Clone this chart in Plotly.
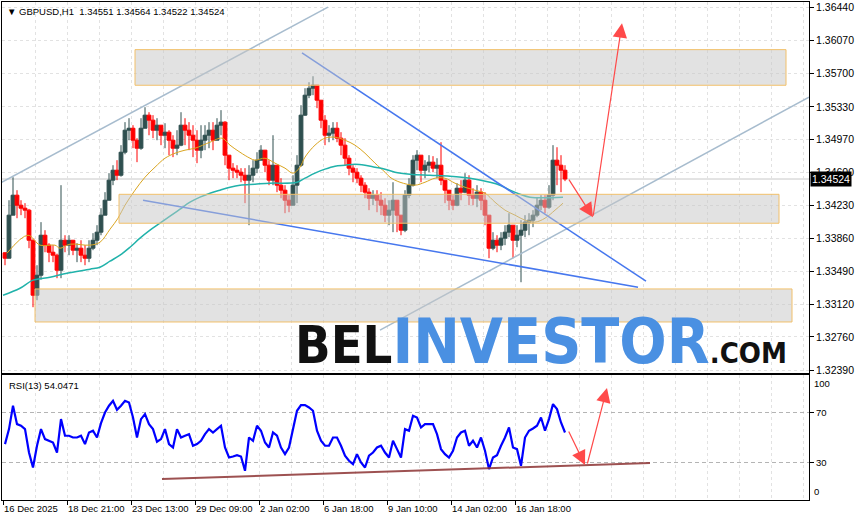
import plotly.graph_objects as go

# ---------------- data ----------------
candle_bar = list(range(2, 566, 4))  # bar index of each (4-bar) candle

closes = [
    1.33639, 1.34120, 1.34343, 1.34231, 1.34198, 1.34176, 1.33840, 1.33226, 1.33449, 1.33896,
    1.33785, 1.33706, 1.33673, 1.33505, 1.33840, 1.33785, 1.33840, 1.33729, 1.33751, 1.33673,
    1.33639, 1.33751, 1.33840, 1.33930, 1.34120, 1.34287, 1.34511, 1.34622, 1.34566, 1.34823,
    1.35069, 1.35091, 1.34957, 1.34868, 1.35091, 1.35237, 1.35181, 1.35069, 1.35125, 1.35013,
    1.35047, 1.34957, 1.34868, 1.34902, 1.35125, 1.35069, 1.35013, 1.34957, 1.34846, 1.34957,
    1.35013, 1.35069, 1.34957, 1.35125, 1.35159, 1.34790, 1.34645, 1.34622, 1.34600, 1.34566,
    1.34511, 1.34566, 1.34645, 1.34734, 1.34846, 1.34678, 1.34511, 1.34678, 1.34455, 1.34399,
    1.34287, 1.34231, 1.34455, 1.34678, 1.35237, 1.35460, 1.35538, 1.35572, 1.35404, 1.35181,
    1.35013, 1.35036, 1.35091, 1.34980, 1.34902, 1.34756, 1.34645, 1.34600, 1.34533, 1.34455,
    1.34377, 1.34309, 1.34343, 1.34287, 1.34231, 1.34120, 1.34176, 1.34287, 1.34120, 1.33952,
    1.34343, 1.34455, 1.34734, 1.34790, 1.34622, 1.34678, 1.34712, 1.34645, 1.34678, 1.34511,
    1.34399, 1.34287, 1.34231, 1.34421, 1.34377, 1.34511, 1.34343, 1.34309, 1.34377, 1.34287,
    1.34120, 1.33751, 1.33840, 1.33785, 1.33863, 1.33930, 1.34008, 1.33840, 1.33896, 1.33952,
    1.34042, 1.34064, 1.34120, 1.34231, 1.34287, 1.34209, 1.34343, 1.34734, 1.34678, 1.34622,
    1.34524,
]
highs = [
    1.33706, 1.34287, 1.34544, 1.34399, 1.34287, 1.34254, 1.34190, 1.33850, 1.33561, 1.34042,
    1.33952, 1.33807, 1.33785, 1.33690, 1.34455, 1.33896, 1.33896, 1.33840, 1.33807, 1.33840,
    1.33785, 1.33840, 1.33919, 1.34008, 1.34198, 1.34377, 1.34589, 1.34678, 1.34734, 1.34902,
    1.35159, 1.35203, 1.35125, 1.34980, 1.35203, 1.35326, 1.35270, 1.35237, 1.35203, 1.35125,
    1.35147, 1.35069, 1.35013, 1.35069, 1.35270, 1.35203, 1.35159, 1.35125, 1.35069, 1.35125,
    1.35125, 1.35159, 1.35159, 1.35203, 1.35293, 1.35170, 1.34790, 1.34701, 1.34678, 1.34645,
    1.34645, 1.34678, 1.34734, 1.34823, 1.34902, 1.34846, 1.34734, 1.35013, 1.34678, 1.34533,
    1.34455, 1.34343, 1.34566, 1.34790, 1.35348, 1.35538, 1.35605, 1.35672, 1.35572, 1.35404,
    1.35237, 1.35125, 1.35159, 1.35159, 1.35047, 1.34980, 1.34790, 1.34678, 1.34645, 1.34566,
    1.34488, 1.34421, 1.34399, 1.34399, 1.34377, 1.34309, 1.34287, 1.34488, 1.34287, 1.34120,
    1.34399, 1.34533, 1.34790, 1.34846, 1.34790, 1.34734, 1.34790, 1.34779, 1.34756, 1.34935,
    1.34511, 1.34399, 1.34343, 1.34477, 1.34511, 1.34589, 1.34566, 1.34421, 1.34455, 1.34421,
    1.34377, 1.34120, 1.33930, 1.33896, 1.33930, 1.34008, 1.34142, 1.34008, 1.34008, 1.34064,
    1.34120, 1.34142, 1.34176, 1.34321, 1.34343, 1.34343, 1.34455, 1.34902, 1.34879, 1.34790,
    1.34678,
]
lows = [
    1.33561, 1.33639, 1.34120, 1.34086, 1.34120, 1.34086, 1.33751, 1.33092, 1.33170, 1.33400,
    1.33706, 1.33595, 1.33595, 1.33416, 1.33416, 1.33706, 1.33673, 1.33673, 1.33595, 1.33595,
    1.33561, 1.33595, 1.33729, 1.33785, 1.33896, 1.34120, 1.34287, 1.34455, 1.34511, 1.34550,
    1.34800, 1.34957, 1.34868, 1.34712, 1.34850, 1.35091, 1.35013, 1.34980, 1.34957, 1.34902,
    1.34868, 1.34790, 1.34768, 1.34790, 1.34890, 1.34902, 1.34846, 1.34768, 1.34701, 1.34756,
    1.34846, 1.34868, 1.34846, 1.34957, 1.35013, 1.34678, 1.34511, 1.34533, 1.34533, 1.34488,
    1.34254, 1.34008, 1.34488, 1.34589, 1.34734, 1.34600, 1.34455, 1.34455, 1.34377, 1.34309,
    1.34142, 1.34153, 1.34231, 1.34254, 1.34660, 1.35230, 1.35427, 1.35460, 1.35315, 1.35091,
    1.34902, 1.34935, 1.34957, 1.34935, 1.34790, 1.34678, 1.34566, 1.34488, 1.34477, 1.34377,
    1.34309, 1.34176, 1.34231, 1.34153, 1.34120, 1.34042, 1.34008, 1.33930, 1.33930, 1.33896,
    1.33930, 1.34309, 1.34440, 1.34622, 1.34488, 1.34533, 1.34600, 1.34600, 1.34533, 1.34455,
    1.34254, 1.34176, 1.34176, 1.34220, 1.34287, 1.34365, 1.34231, 1.34231, 1.34209, 1.34176,
    1.34008, 1.33639, 1.33729, 1.33706, 1.33729, 1.33785, 1.33874, 1.33639, 1.33762, 1.33371,
    1.33874, 1.33896, 1.33986, 1.34097, 1.34176, 1.34142, 1.34190, 1.34287, 1.34455, 1.34377,
    1.34500,
]
first_open = 1.33700
opens = [first_open] + closes[:-1]

rsi = [
    44.7, 56.7, 75.4, 60.7, 59.4, 56.7, 38.0, 26.0, 43.4, 56.7,
    48.7, 47.4, 46.0, 38.0, 64.7, 51.4, 51.4, 50.0, 50.0, 51.4,
    44.7, 54.0, 55.4, 50.0, 61.5, 70.0, 75.4, 79.4, 72.2, 75.4,
    79.4, 78.0, 66.0, 50.0, 64.7, 68.7, 60.7, 56.7, 46.6, 48.7,
    56.7, 44.7, 42.0, 56.7, 50.0, 51.4, 52.7, 43.4, 44.7, 47.4,
    52.7, 56.7, 54.0, 56.7, 59.4, 42.0, 34.0, 34.8, 35.9, 34.8,
    23.4, 50.0, 47.4, 59.4, 55.4, 46.0, 42.0, 54.0, 51.4, 42.0,
    36.7, 42.0, 56.7, 71.4, 75.9, 75.9, 74.0, 71.4, 55.4, 47.4,
    43.4, 43.4, 50.0, 50.0, 43.4, 35.4, 31.4, 28.7, 36.7, 30.0,
    26.0, 35.4, 38.0, 42.0, 43.4, 38.0, 34.0, 47.4, 40.7, 34.0,
    56.7, 55.4, 67.4, 66.0, 58.0, 60.7, 60.7, 60.7, 52.7, 40.7,
    36.7, 34.0, 39.4, 50.0, 54.0, 55.4, 43.4, 47.4, 42.0, 50.0,
    39.4, 24.7, 34.0, 35.9, 43.4, 50.0, 58.0, 42.0, 40.7, 27.4,
    50.0, 55.4, 57.2, 59.4, 66.0, 55.4, 64.7, 76.7, 72.7, 62.0,
    54.0,
]

ma_fast_bar = [4, 25, 37, 52, 57, 67, 87, 97, 107, 115, 122, 132, 142, 152, 162, 172, 182, 192,
               207, 219, 227, 237, 247, 252, 262, 272, 282, 290, 297, 302, 312, 322, 332, 342,
               352, 362, 372, 382, 387, 397, 412, 422, 432, 442, 452, 462, 472, 482, 492, 502,
               512, 522, 532, 542, 552, 560]
ma_fast = [1.33695, 1.33896, 1.33785, 1.33785, 1.33751, 1.33796, 1.33785, 1.33818, 1.33963,
           1.34086, 1.34231, 1.34399, 1.34544, 1.34656, 1.34756, 1.34812, 1.34846, 1.34868,
           1.34935, 1.34980, 1.34902, 1.34823, 1.34756, 1.34734, 1.34756, 1.34701, 1.34645,
           1.34589, 1.34656, 1.34768, 1.34902, 1.34980, 1.34991, 1.34957, 1.34902, 1.34812,
           1.34701, 1.34600, 1.34544, 1.34488, 1.34455, 1.34488, 1.34533, 1.34533, 1.34477,
           1.34432, 1.34399, 1.34365, 1.34265, 1.34176, 1.34120, 1.34064, 1.34042, 1.34086,
           1.34176, 1.34254]

ma_slow_bar = [0, 17, 30, 47, 64, 87, 97, 107, 117, 127, 137, 147, 157, 167, 177, 187, 197, 207,
               217, 227, 237, 252, 267, 294, 302, 312, 322, 332, 342, 352, 362, 372, 382, 392,
               407, 427, 447, 467, 487, 497, 507, 517, 527, 560]
ma_slow = [1.33226, 1.33304, 1.33394, 1.33427, 1.33472, 1.33517, 1.33539, 1.33606, 1.33673,
           1.33762, 1.33863, 1.33952, 1.34030, 1.34109, 1.34187, 1.34265, 1.34321, 1.34365,
           1.34399, 1.34432, 1.34455, 1.34466, 1.34477, 1.34488, 1.34533, 1.34589, 1.34634,
           1.34667, 1.34678, 1.34689, 1.34678, 1.34656, 1.34634, 1.34600, 1.34578, 1.34566,
           1.34555, 1.34533, 1.34488, 1.34455, 1.34399, 1.34354, 1.34321, 1.34321]

# trend lines (bar index, price)
channel_upper_bar = [-3, 325]
channel_upper_px = [1.34477, 1.36443]
channel_lower_bar = [377, 806]
channel_lower_px = [1.32835, 1.35438]
wedge_upper_bar = [299, 643]
wedge_upper_px = [1.35932, 1.33382]
wedge_lower_bar = [140, 635]
wedge_lower_px = [1.34287, 1.33315]

# zones (bar start, bar end, price top, price bottom)
zone_bar_start = [132, 116, 32]
zone_bar_end = [783, 776, 789]
zone_top = [1.35969, 1.34353, 1.33296]
zone_bottom = [1.35571, 1.34030, 1.32927]

# forecast arrows
arrow_bar = [565, 590, 619]
arrow_px = [1.34533, 1.34097, 1.36264]
rsi_arrow_bar = [565, 582, 584, 604]
rsi_arrow_val = [56.0, 28.0, 28.0, 89.6]
rsi_support_bar = [159, 647]
rsi_support_val = [16.8, 29.6]

last_price = 1.34524
price_ticks = [1.36440, 1.36070, 1.35700, 1.35330, 1.34970, 1.34600, 1.34230,
               1.33860, 1.33490, 1.33120, 1.32760, 1.32390]
time_label_bar = [0, 64, 128, 192, 256, 320, 384, 448, 512]
time_labels = ["16 Dec 2025", "18 Dec 21:00", "23 Dec 13:00", "29 Dec 09:00", "2 Jan 02:00",
               "6 Jan 18:00", "9 Jan 10:00", "14 Jan 02:00", "16 Jan 18:00"]
grid_bar = list(range(0, 807, 32))

# ---------------- styles ----------------
BULL = "#2F4F4F"
BEAR = "#FF0000"
GRID = "#E2E2E2"
FONT = "Liberation Sans, Arial, sans-serif"
LOGO_FONT = "'DejaVu Sans Condensed','Liberation Sans Narrow',sans-serif"

fig = go.Figure()

fig.add_trace(go.Candlestick(
    x=candle_bar, open=opens, high=highs, low=lows, close=closes,
    increasing=dict(line=dict(color=BULL, width=1), fillcolor=BULL),
    decreasing=dict(line=dict(color=BEAR, width=1), fillcolor=BEAR),
    whiskerwidth=0, xaxis="x", yaxis="y", hoverinfo="skip"))

fig.add_trace(go.Scatter(x=ma_fast_bar, y=ma_fast, mode="lines", line=dict(color="#DAA520", width=1, shape="spline"),
                         xaxis="x", yaxis="y"))
fig.add_trace(go.Scatter(x=ma_slow_bar, y=ma_slow, mode="lines", line=dict(color="#20B2AA", width=1.5, shape="spline"),
                         xaxis="x", yaxis="y"))

for bx, py, col in [(channel_upper_bar, channel_upper_px, "#A7BCCE"),
                    (channel_lower_bar, channel_lower_px, "#A7BCCE"),
                    (wedge_upper_bar, wedge_upper_px, "#4677EE"),
                    (wedge_lower_bar, wedge_lower_px, "#4677EE")]:
    fig.add_trace(go.Scatter(x=bx, y=py, mode="lines", line=dict(color=col, width=1.5),
                             xaxis="x", yaxis="y"))

fig.add_trace(go.Scatter(x=candle_bar, y=rsi, mode="lines", line=dict(color="#0000FF", width=2.2),
                         xaxis="x2", yaxis="y2"))
fig.add_trace(go.Scatter(x=rsi_support_bar, y=rsi_support_val, mode="lines",
                         line=dict(color="rgba(140,50,50,0.85)", width=2), xaxis="x2", yaxis="y2"))

shapes = []
for xs, xe, yt, yb in zip(zone_bar_start, zone_bar_end, zone_top, zone_bottom):
    shapes.append(dict(type="rect", xref="x", yref="y", x0=xs, x1=xe, y0=yb, y1=yt,
                       fillcolor="rgba(198,198,198,0.5)", line=dict(color="#F2C06A", width=1),
                       layer="above"))
shapes.append(dict(type="line", xref="x domain", yref="y", x0=0, x1=1, y0=last_price, y1=last_price,
                   line=dict(color="#C8C8C8", width=1), layer="below"))

ARROW = dict(text="", showarrow=True, arrowhead=2, arrowsize=2.4, arrowwidth=1.2, arrowcolor="#FF4A4A")
annotations = []
# forecast arrows
annotations.append(dict(x=arrow_bar[1], y=arrow_px[1], ax=arrow_bar[0], ay=arrow_px[0],
                        xref="x", yref="y", axref="x", ayref="y", **ARROW))
annotations.append(dict(x=arrow_bar[2], y=arrow_px[2], ax=arrow_bar[1], ay=arrow_px[1],
                        xref="x", yref="y", axref="x", ayref="y", **ARROW))
annotations.append(dict(x=rsi_arrow_bar[1], y=rsi_arrow_val[1], ax=rsi_arrow_bar[0], ay=rsi_arrow_val[0],
                        xref="x2", yref="y2", axref="x2", ayref="y2", **ARROW))
annotations.append(dict(x=rsi_arrow_bar[3], y=rsi_arrow_val[3], ax=rsi_arrow_bar[2], ay=rsi_arrow_val[2],
                        xref="x2", yref="y2", axref="x2", ayref="y2", **ARROW))

# header texts
annotations.append(dict(xref="paper", yref="paper", x=0, y=1, xanchor="left", yanchor="top",
                        xshift=3, yshift=-2, showarrow=False,
                        text="▼ GBPUSD,H1  1.34551 1.34564 1.34522 1.34524",
                        font=dict(family=FONT, size=9.5, color="black")))
annotations.append(dict(xref="paper", yref="y2 domain", x=0, y=1, xanchor="left", yanchor="top",
                        xshift=5, yshift=-3, showarrow=False, text="RSI(13) 54.0471",
                        font=dict(family=FONT, size=9.5, color="black")))
# RSI scale ends
annotations.append(dict(xref="paper", yref="y2", x=1, y=100, xanchor="left", yanchor="top",
                        xshift=3, yshift=-1, showarrow=False, text="100",
                        font=dict(family=FONT, size=9.5, color="black")))
annotations.append(dict(xref="paper", yref="y2", x=1, y=0, xanchor="left", yanchor="bottom",
                        xshift=3, yshift=1, showarrow=False, text="0",
                        font=dict(family=FONT, size=9.5, color="black")))
# last price tag
annotations.append(dict(xref="paper", yref="y", x=1, y=last_price, xanchor="left", yanchor="middle",
                        xshift=1, showarrow=False, text=f"{last_price:.5f}", bgcolor="black",
                        borderpad=1, font=dict(family=FONT, size=10.5, color="white")))
# watermark logo
annotations.append(dict(
    xref="paper", yref="paper", x=0.361, y=0.24, xanchor="left", yanchor="bottom", showarrow=False,
    text=(f"<span style=\"font-family:{LOGO_FONT};font-weight:bold;font-size:52px;color:#111111\">BEL</span>"
          f"<span style=\"font-family:{LOGO_FONT};font-weight:bold;font-size:62px;color:#4A90E2\">INVESTOR</span>"
          f"<span style=\"font-family:{LOGO_FONT};font-weight:bold;font-size:29px;color:#111111\">.COM</span>"),
    font=dict(family=FONT, size=30)))

axis_line = dict(showline=True, mirror=True, linecolor="black", linewidth=1, zeroline=False,
                 automargin=False)

fig.update_layout(
    template="none",
    width=855, height=521, margin=dict(l=2, r=46, t=2, b=21, pad=0),
    paper_bgcolor="white", plot_bgcolor="white", showlegend=False,
    boxgap=0.05, boxgroupgap=0,
    font=dict(family=FONT, size=10, color="black"),
    shapes=shapes, annotations=annotations,
    xaxis=dict(domain=[0, 1], anchor="y", range=[-1, 806], tickvals=grid_bar, showticklabels=False,
               ticks="", showgrid=True, gridcolor=GRID, gridwidth=1, griddash="3px,3px",
               rangeslider=dict(visible=False), **axis_line),
    yaxis=dict(domain=[0.255, 1], anchor="x", side="right", range=[1.32357, 1.36501],
               tickvals=price_ticks, ticktext=[f"{v:.5f}" for v in price_ticks],
               ticks="outside", ticklen=4, tickcolor="black",
               tickfont=dict(family=FONT, size=10.5), showgrid=True, gridcolor=GRID, gridwidth=1,
               griddash="3px,3px", **axis_line),
    xaxis2=dict(domain=[0, 1], anchor="y2", range=[-1, 806], tickvals=time_label_bar,
                ticktext=time_labels, ticks="outside", ticklen=4, tickcolor="black", tickangle=0,
                ticklabelposition="outside right", tickfont=dict(family=FONT, size=9.5),
                showgrid=True, gridcolor=GRID, gridwidth=1, griddash="3px,3px",
                minor=dict(tickvals=grid_bar, showgrid=True, gridcolor=GRID, griddash="3px,3px", ticks=""),
                **axis_line),
    yaxis2=dict(domain=[0, 0.251], anchor="x2", side="right", range=[0, 100], tickvals=[70, 30],
                ticktext=["70", "30"], ticks="outside", ticklen=4, tickcolor="black",
                tickfont=dict(family=FONT, size=9.5), showgrid=True, gridcolor="#B4B4B4", gridwidth=1,
                griddash="4px,3px", **axis_line),
)

fig.write_html("out.html", config={"displayModeBar": False, "staticPlot": True},
               post_script="document.body.style.margin='0';document.body.style.padding='0';"
                           "document.body.style.overflow='hidden';")
